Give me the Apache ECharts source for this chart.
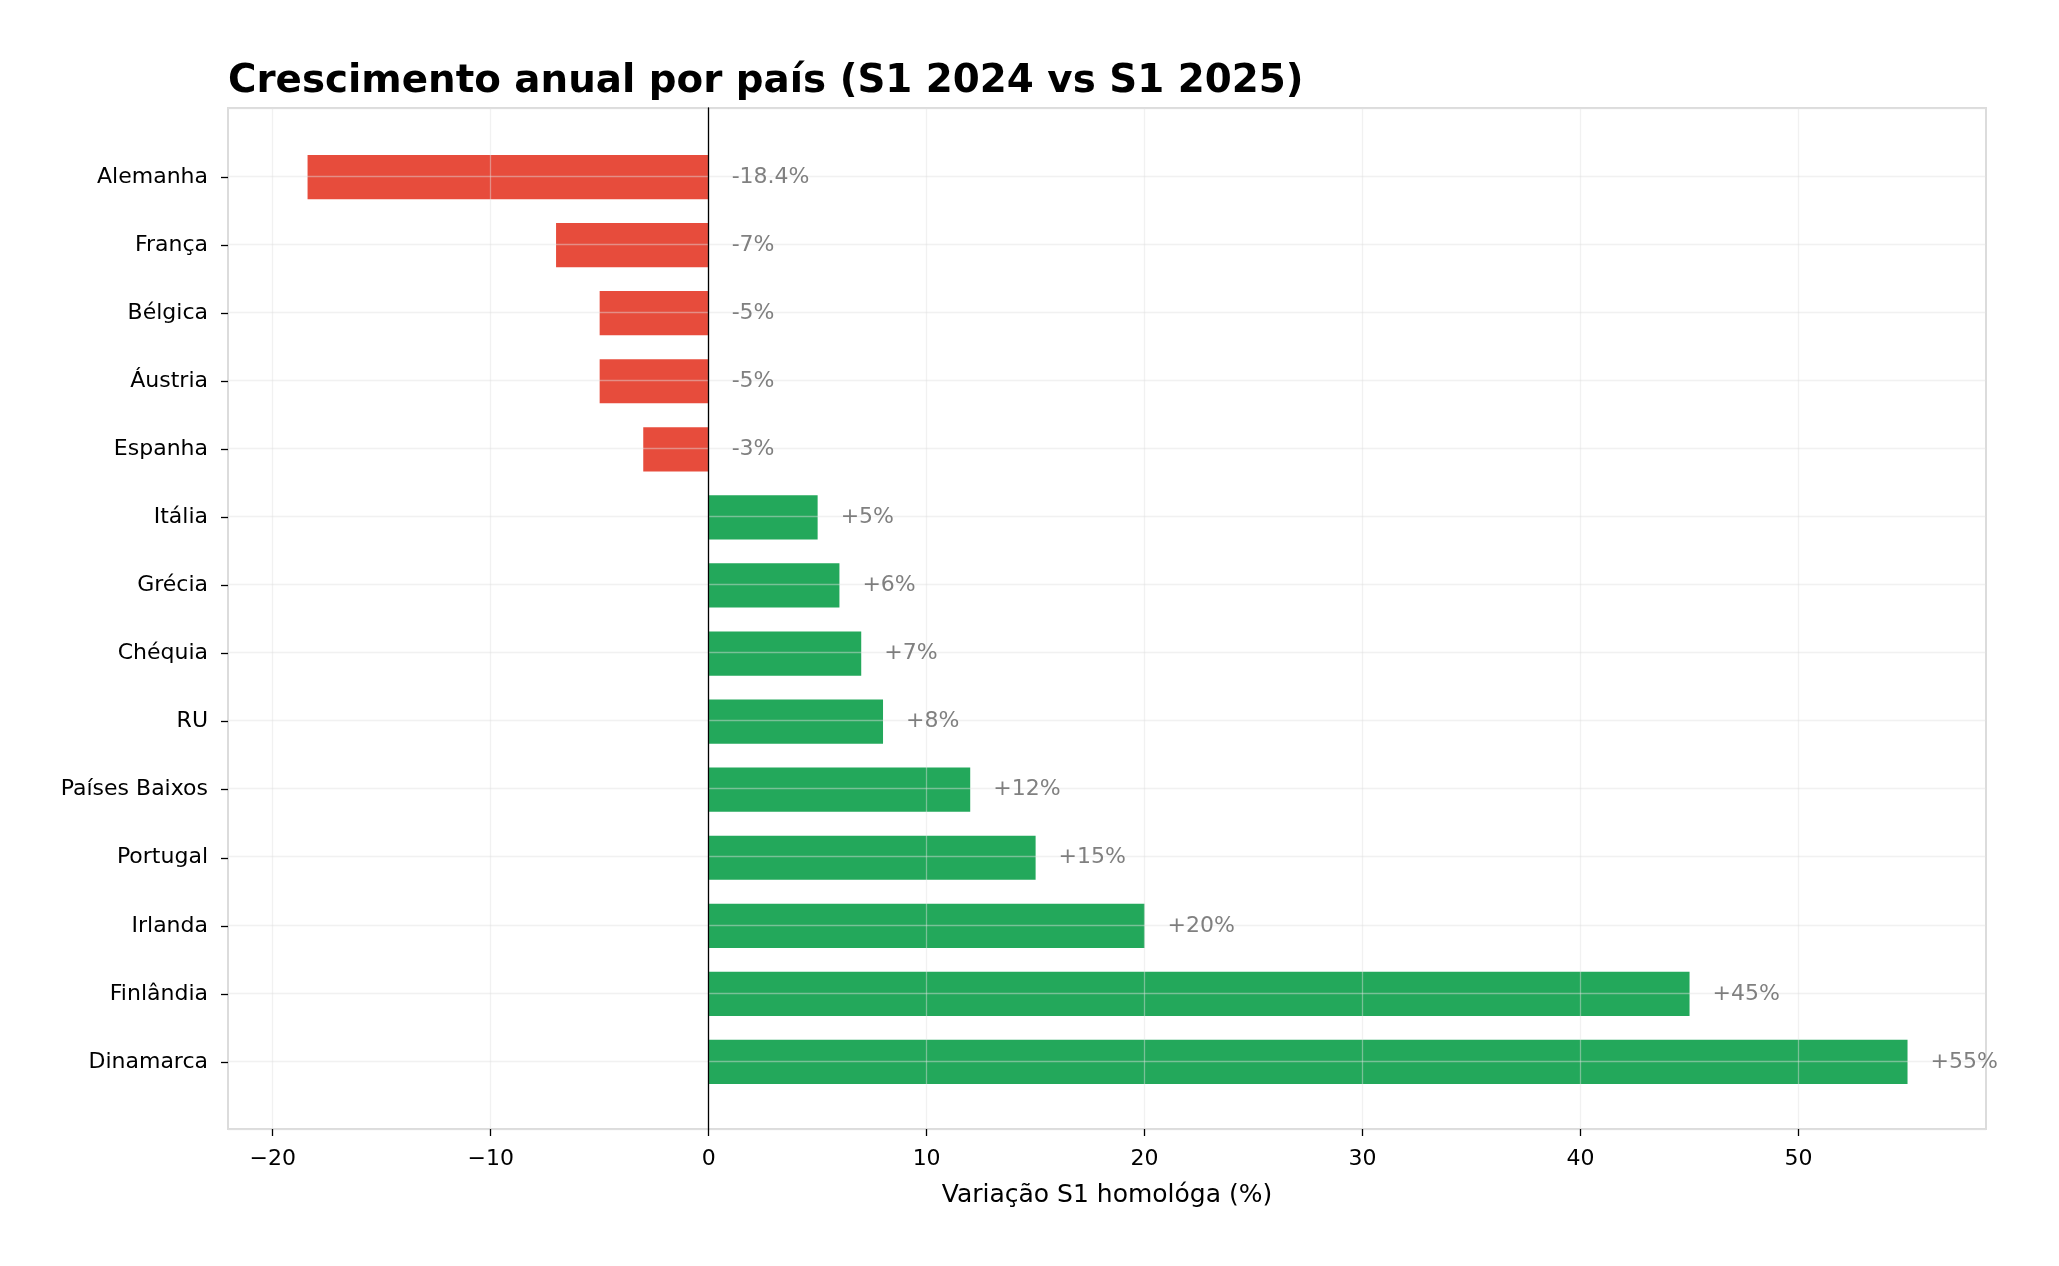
<!DOCTYPE html>
<html>
<head>
<meta charset="utf-8">
<script src="https://cdn.jsdelivr.net/npm/echarts@6/dist/echarts.min.js"></script>
<style>
html,body{margin:0;padding:0;background:#fff;}
#chart{width:2059px;height:1266px;}
</style>
</head>
<body>
<div id="chart"></div>
<script>
const countries = ['Alemanha','França','Bélgica','Áustria','Espanha','Itália','Grécia','Chéquia','RU','Países Baixos','Portugal','Irlanda','Finlândia','Dinamarca'];
const growth = [-18.4,-7,-5,-5,-3,5,6,7,8,12,15,20,45,55];
const xTicks = [-20,-10,0,10,20,30,40,50];
const titleText = 'Crescimento anual por país (S1 2024 vs S1 2025)';
const xName = 'Variação S1 homológa (%)';

const RED = '#e74c3c', GREEN = '#23a85b';
const FONT = 'DejaVu Sans';
const XMIN = -22.05, XMAX = 58.6;

const chart = echarts.init(document.getElementById('chart'), null, {renderer:'canvas'});
const gridLine = {color:'rgba(224,224,224,0.45)', width:1.3};

chart.setOption({
  backgroundColor:'#ffffff',
  animation:false,
  title:{
    text:titleText, left:223, top:57,
    textStyle:{fontFamily:FONT, fontWeight:'bold', fontSize:38.8, color:'#000'}
  },
  grid:[
    {left:228, right:73, top:108, bottom:137, show:true, borderColor:'#dcdcdc', borderWidth:2, backgroundColor:'transparent'},
    {left:228, right:73, top:143, bottom:170}
  ],
  xAxis:[
    {type:'value', gridIndex:0, min:XMIN, max:XMAX, z:3,
     name:xName, nameLocation:'middle', nameGap:54,
     nameTextStyle:{fontFamily:FONT, fontSize:25, color:'#000'},
     axisLine:{show:false, onZero:false},
     axisTick:{show:true, length:7, inside:false, customValues:xTicks, lineStyle:{color:'#000', width:1.3}},
     axisLabel:{show:true, margin:19, customValues:xTicks, fontFamily:FONT, fontSize:22, color:'#000',
       formatter:v=>String(v).replace('-','\u2212')},
     splitLine:{show:true, lineStyle:gridLine}
    },
    {type:'value', gridIndex:1, min:XMIN, max:XMAX, show:false,
     axisLine:{show:false, onZero:false}, axisTick:{show:false}, axisLabel:{show:false}, splitLine:{show:false}}
  ],
  yAxis:[
    {type:'value', gridIndex:0, min:-1, max:14, interval:1, inverse:true, z:3,
     axisLine:{show:true, onZero:true, lineStyle:{color:'#000', width:1.3}},
     axisTick:{show:false}, axisLabel:{show:false},
     splitLine:{show:true, lineStyle:gridLine}
    },
    {type:'category', gridIndex:1, data:countries, inverse:true,
     axisLine:{show:false, onZero:false},
     axisTick:{show:true, alignWithLabel:true, length:7, lineStyle:{color:'#000', width:1.3}},
     axisLabel:{margin:20, fontFamily:FONT, fontSize:22, color:'#000'},
     splitLine:{show:false}
    }
  ],
  series:[
    {type:'bar', xAxisIndex:1, yAxisIndex:1, data:growth, barWidth:'65%', z:2,
     itemStyle:{color:p=>p.value<0?RED:GREEN}
    },
    {type:'scatter', xAxisIndex:1, yAxisIndex:1, symbolSize:0, z:4,
     data:growth.map((v,i)=>[Math.max(v,0), i, v]),
     label:{show:true, position:'right', distance:23, fontFamily:FONT, fontSize:22, color:'#606060',
       formatter:p=>{const v=p.value[2]; return (v>0?'+':'')+v+'%';}}
    }
  ]
});
</script>
</body>
</html>
